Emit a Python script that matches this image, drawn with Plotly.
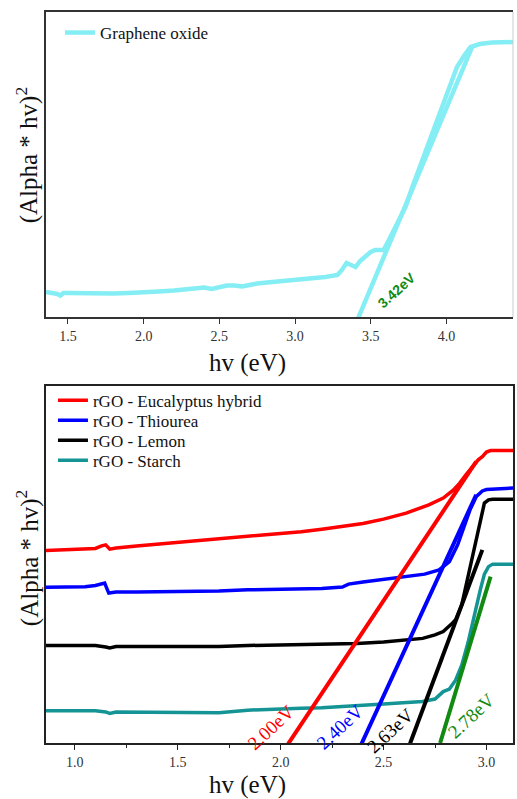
import plotly.graph_objects as go

# ---------------- data: top panel (Graphene oxide) ----------------
go_x = [1.355, 1.40, 1.43, 1.45, 1.47, 1.50, 1.60, 1.70, 1.80, 1.90, 2.00, 2.10, 2.20,
        2.30, 2.35, 2.40, 2.45, 2.50, 2.55, 2.60, 2.65, 2.70, 2.75, 2.85, 3.00, 3.10,
        3.20, 3.28, 3.31, 3.34, 3.37, 3.40, 3.43, 3.46, 3.50, 3.53, 3.585, 3.62, 3.68,
        3.73, 3.78, 3.84, 3.90, 3.96, 4.02, 4.07, 4.12, 4.16, 4.22, 4.30, 4.44]
go_y = [0.82, 0.80, 0.754, 0.705, 0.787, 0.787, 0.77, 0.754, 0.77, 0.787, 0.80, 0.836,
        0.869, 0.934, 0.967, 0.967, 0.918, 0.967, 1.033, 1.033, 1.0, 1.049, 1.098, 1.148,
        1.213, 1.246, 1.311, 1.377, 1.541, 1.770, 1.705, 1.639, 1.836, 1.967, 2.131,
        2.197, 2.197, 2.525, 3.115, 3.607, 4.328, 5.148, 5.967, 6.787, 7.541, 8.197,
        8.590, 8.852, 8.951, 9.0, 9.016]
go_fit_x = [3.40, 4.17]
go_fit_y = [-0.24, 8.86]
go_gap = "3.42eV"

# ---------------- data: bottom panel (rGO samples) ----------------
euc_x = [0.86, 0.95, 1.05, 1.10, 1.13, 1.15, 1.17, 1.20, 1.30, 1.40, 1.50, 1.60, 1.70,
         1.80, 1.90, 2.00, 2.10, 2.20, 2.30, 2.40, 2.50, 2.61, 2.72, 2.79, 2.84, 2.87,
         2.90, 2.93, 2.96, 2.98, 3.00, 3.02, 3.13]
euc_y = [5.39, 5.41, 5.43, 5.45, 5.52, 5.55, 5.43, 5.46, 5.52, 5.57, 5.63, 5.67, 5.71,
         5.77, 5.81, 5.88, 5.92, 5.99, 6.06, 6.15, 6.27, 6.44, 6.67, 6.86, 7.09, 7.28,
         7.51, 7.74, 7.93, 8.02, 8.15, 8.19, 8.19]

thio_x = [0.86, 0.95, 1.05, 1.10, 1.13, 1.145, 1.165, 1.20, 1.30, 1.50, 1.70, 1.84, 2.00,
          2.10, 2.20, 2.30, 2.33, 2.40, 2.50, 2.61, 2.70, 2.77, 2.82, 2.86, 2.89, 2.92,
          2.95, 2.98, 3.00, 3.13]
thio_y = [4.36, 4.37, 4.38, 4.41, 4.45, 4.48, 4.20, 4.23, 4.23, 4.24, 4.26, 4.29, 4.31,
          4.30, 4.33, 4.37, 4.45, 4.51, 4.58, 4.66, 4.73, 4.85, 5.08, 5.55, 6.06, 6.53,
          6.90, 7.06, 7.10, 7.14]

lem_x = [0.86, 1.00, 1.10, 1.15, 1.17, 1.20, 1.30, 1.50, 1.70, 1.84, 2.00, 2.10, 2.20,
         2.37, 2.50, 2.60, 2.69, 2.75, 2.79, 2.83, 2.85, 2.88, 2.90, 2.92, 2.94, 2.97,
         2.99, 3.01, 3.03, 3.13]
lem_y = [2.73, 2.73, 2.73, 2.69, 2.66, 2.70, 2.70, 2.70, 2.70, 2.73, 2.75, 2.77, 2.76,
         2.79, 2.83, 2.87, 2.93, 3.03, 3.12, 3.33, 3.45, 3.87, 4.38, 4.93, 5.50, 6.25,
         6.72, 6.81, 6.83, 6.83]

sta_x = [0.86, 1.00, 1.10, 1.15, 1.17, 1.20, 1.30, 1.50, 1.70, 1.84, 2.00, 2.10, 2.20,
         2.37, 2.50, 2.69, 2.75, 2.79, 2.82, 2.85, 2.88, 2.91, 2.94, 2.97, 2.99, 3.01,
         3.03, 3.13]
sta_y = [0.90, 0.90, 0.90, 0.87, 0.83, 0.87, 0.87, 0.85, 0.85, 0.92, 0.94, 0.97, 0.99,
         1.06, 1.09, 1.16, 1.23, 1.44, 1.51, 1.76, 2.18, 2.80, 3.59, 4.29, 4.73, 4.94,
         5.01, 5.01]

fit_euc_x = [2.03, 2.95]
fit_euc_y = [-0.08, 7.88]
fit_thio_x = [2.39, 2.95]
fit_thio_y = [-0.06, 6.95]
fit_lem_x = [2.62, 2.98]
fit_lem_y = [-0.15, 5.41]
fit_sta_x = [2.775, 3.02]
fit_sta_y = [0.0, 4.66]

gap_labels = ["2.00eV", "2.40eV", "2.63eV", "2.78eV"]
gap_label_x = [1.952, 2.29, 2.532, 2.927]
gap_label_y = [0.44, 0.46, 0.36, 0.78]

names = ["rGO - Eucalyptus hybrid", "rGO - Thiourea", "rGO - Lemon", "rGO - Starch"]
top_ticks = [1.5, 2.0, 2.5, 3.0, 3.5, 4.0]
bot_ticks = [1.0, 1.5, 2.0, 2.5, 3.0]

# ---------------- styles ----------------
SERIF = "Liberation Serif"
CYAN = "#85EEF5"
cols = ["#FF0000", "#0000FF", "#000000", "#149494"]
fit_cols = ["#FF0000", "#0000FF", "#000000", "#118A11"]
label_cols = ["#FF0000", "#0000FF", "#000000", "#118A11"]

fig = go.Figure()

fig.add_trace(go.Scatter(x=go_x, y=go_y, mode="lines", name="Graphene oxide",
                         line=dict(color=CYAN, width=4.5), xaxis="x", yaxis="y",
                         legend="legend"))
fig.add_trace(go.Scatter(x=go_fit_x, y=go_fit_y, mode="lines", showlegend=False,
                         line=dict(color=CYAN, width=4.5), xaxis="x", yaxis="y"))

series = [(euc_x, euc_y), (thio_x, thio_y), (lem_x, lem_y), (sta_x, sta_y)]
legend_ids = ["legend2", "legend3", "legend4", "legend5"]
for (sx, sy), c, n, lg in zip(series, cols, names, legend_ids):
    fig.add_trace(go.Scatter(x=sx, y=sy, mode="lines", name=n,
                             line=dict(color=c, width=3.5), xaxis="x2", yaxis="y2",
                             legend=lg))

fits = [(fit_euc_x, fit_euc_y), (fit_thio_x, fit_thio_y), (fit_lem_x, fit_lem_y),
        (fit_sta_x, fit_sta_y)]
for (fx, fy), c in zip(fits, fit_cols):
    fig.add_trace(go.Scatter(x=fx, y=fy, mode="lines", showlegend=False,
                             line=dict(color=c, width=4), xaxis="x2", yaxis="y2"))

annotations = []
annotations.append(dict(x=3.673, y=0.885, xref="x", yref="y", text="<b>" + go_gap + "</b>",
                        showarrow=False, textangle=-42, xanchor="center", yanchor="middle",
                        font=dict(family="Liberation Sans", size=14, color="#118A11")))
for t, lx, ly, c in zip(gap_labels, gap_label_x, gap_label_y, label_cols):
    annotations.append(dict(x=lx, y=ly, xref="x2", yref="y2", text=t, showarrow=False,
                            textangle=-43, xanchor="center", yanchor="middle",
                            font=dict(family=SERIF, size=19, color=c)))

# axis titles
title_font = dict(family=SERIF, size=25, color="#111")
annotations.append(dict(x=0.4307, y=0.5198, xref="paper", yref="paper", text="hv (eV)",
                        showarrow=False, xanchor="center", yanchor="middle", font=title_font))
annotations.append(dict(x=0.4307, y=-0.0575, xref="paper", yref="paper", text="hv (eV)",
                        showarrow=False, xanchor="center", yanchor="middle", font=title_font))
annotations.append(dict(x=-0.0405, y=0.804, xref="paper", yref="paper",
                        text="(Alpha * hv)<sup>2</sup>", textangle=-90, showarrow=False,
                        xanchor="center", yanchor="middle", font=title_font))
annotations.append(dict(x=-0.0405, y=0.253, xref="paper", yref="paper",
                        text="(Alpha * hv)<sup>2</sup>", textangle=-90, showarrow=False,
                        xanchor="center", yanchor="middle", font=title_font))

axis_common = dict(showgrid=False, zeroline=False, showline=True, linewidth=1.5)
legend_font = dict(family=SERIF, size=17, color="#111")
tick_font = dict(family=SERIF, size=14, color="#333")


def px_to_paper_y(py):
    return (743 - py) / 731


legend_rows_py = [382.7, 402.7, 422.7, 442.7]
legend_layouts = {}
for lg, py in zip(legend_ids, legend_rows_py):
    legend_layouts[lg] = dict(x=0.0149, y=px_to_paper_y(py), xanchor="left", yanchor="top",
                              bgcolor="rgba(0,0,0,0)", font=legend_font)

fig.update_layout(
    width=517, height=799,
    margin=dict(l=46, r=2, t=12, b=56),
    paper_bgcolor="white", plot_bgcolor="white",
    xaxis=dict(domain=[0, 1], range=[1.355, 4.44], anchor="y", tickvals=top_ticks,
               ticktext=[f"{v:.1f}" for v in top_ticks], ticks="outside", ticklen=5,
               tickcolor="#333", linecolor="#333", mirror=True,
               tickfont=tick_font, **axis_common),
    yaxis=dict(domain=[0.5828, 1.0], range=[0, 10], anchor="x", showticklabels=False,
               ticks="", linecolor="#333", mirror=False, **axis_common),
    xaxis2=dict(domain=[0, 1], range=[0.86, 3.129], anchor="y2", tickvals=bot_ticks,
                ticktext=[f"{v:.1f}" for v in bot_ticks], ticks="outside", ticklen=5,
                tickcolor="#222", linecolor="#222", mirror=True,
                minor=dict(ticks="outside", ticklen=3, dtick=0.25, tick0=0,
                           tickcolor="#222"),
                tickfont=tick_font, **axis_common),
    yaxis2=dict(domain=[0, 0.4884], range=[0, 10], anchor="x2", showticklabels=False,
                ticks="", linecolor="#222", mirror=True, **axis_common),
    legend=dict(x=0.0299, y=px_to_paper_y(15), xanchor="left", yanchor="top",
                bgcolor="rgba(0,0,0,0)", font=legend_font),
    annotations=annotations,
    shapes=[dict(type="line", xref="paper", yref="paper", x0=1, x1=1,
                 y0=0.5828, y1=1.0, line=dict(color="#CCCCCC", width=1))],
    showlegend=True,
)
fig.update_layout(**legend_layouts)

fig.write_html("out.html", config={"displayModeBar": False},
               post_script="document.body.style.margin='0px';")
